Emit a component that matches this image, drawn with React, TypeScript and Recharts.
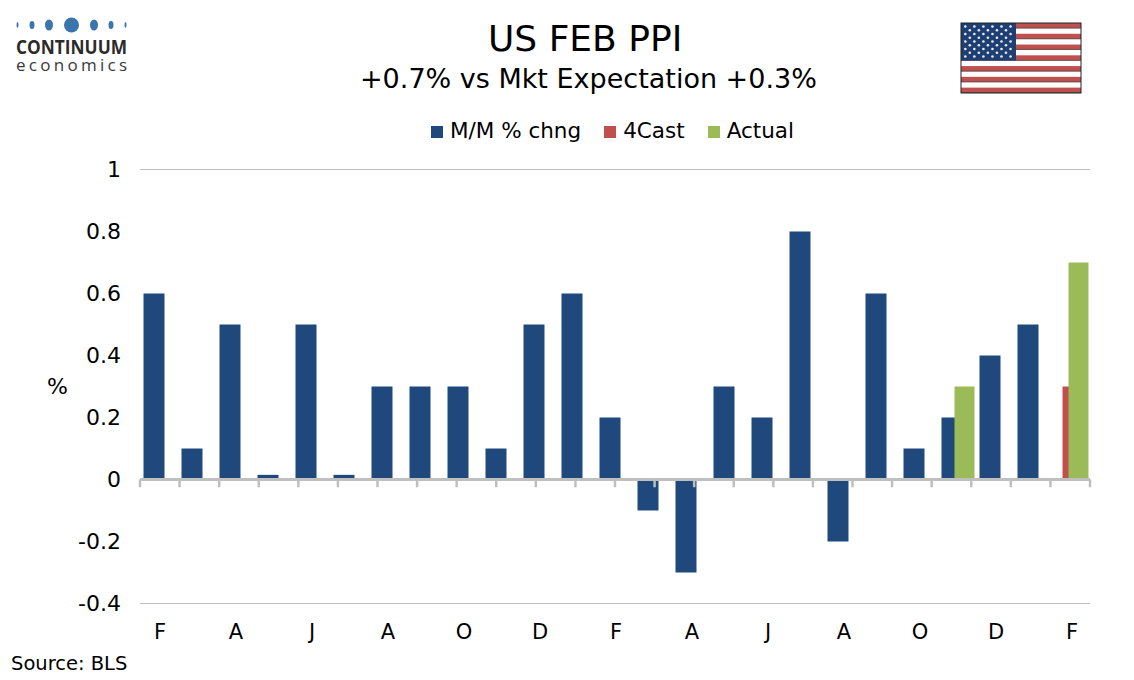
import React from 'react';
import { BarChart, Bar, XAxis, YAxis, CartesianGrid, ReferenceLine, Legend } from 'recharts';

const months = ['F','M','A','M','J','J','A','S','O','N','D','J','F','M','A','M','J','J','A','S','O','N','D','J','F'];
const mm: (number|null)[] = [0.6,0.1,0.5,0.015,0.5,0.015,0.3,0.3,0.3,0.1,0.5,0.6,0.2,-0.1,-0.3,0.3,0.2,0.8,-0.2,0.6,0.1,0.2,0.4,0.5,null];
const cast: (number|null)[] = [null,null,null,null,null,null,null,null,null,null,null,null,null,null,null,null,null,null,null,null,null,null,null,null,0.3];
const actual: (number|null)[] = [null,null,null,null,null,null,null,null,null,null,null,null,null,null,null,null,null,null,null,null,null,0.3,null,null,0.7];
const yTicks = [-0.4,-0.2,0,0.2,0.4,0.6,0.8,1];
const tickEdges = Array.from({length: months.length + 1}, (_, i) => i);
const data = months.map((m, i) => ({ key: i, m, mm: mm[i], cast: cast[i], actual: actual[i] }));

const FONT = '"DejaVu Sans", Verdana, sans-serif';
const GREY = '#BFBFBF';

function Flag() {
  const stripes = Array.from({length: 13}, (_, i) => i);
  const stars: [number, number][] = [];
  for (let r = 0; r < 9; r++) {
    const n = r % 2 === 0 ? 6 : 5;
    for (let c = 0; c < n; c++) stars.push([4.3 + (r % 2 === 0 ? 0 : 4.5) + c * 9.05, 3.5 + r * 3.75]);
  }
  return (
    <svg width={122} height={72} style={{position:'absolute',left:960,top:22}}>
      <g transform="translate(1,1)">
        <rect x={0} y={0} width={120} height={70} fill="#fff"/>
        {stripes.filter(i => i % 2 === 0).map(i => (
          <g key={i}>
            <rect x={0} y={i*70/13} width={120} height={70/13} fill="#C0504D"/>
            <rect x={0} y={(i+1)*70/13-1} width={120} height={1} fill="#6b5050"/>
          </g>
        ))}
        <rect x={0} y={0} width={55} height={37.5} fill="#1F3F73"/>
        {stars.map(([x,y],i)=><circle key={i} cx={x} cy={y} r={1.3} fill="#e8eef6"/>)}
        <rect x={0} y={0} width={120} height={70} fill="none" stroke="#222" strokeWidth={1}/>
      </g>
    </svg>
  );
}

function Logo() {
  const dots = [[17.5,1,3],[32,2.5,4],[49,4,5.5],[71.5,7.5,7.5],[94,4,5.5],[111,2.5,4],[125.5,1,3]];
  return (
    <svg width={150} height={80} style={{position:'absolute',left:0,top:0}}>
      {dots.map(([x,rx,ry],i)=><ellipse key={i} cx={x} cy={25} rx={rx} ry={ry} fill="#3A76AD"/>)}
      <text x={16} y={54} fontFamily='"Open Sans", sans-serif' fontWeight={700} fontSize={20} fill="#2b2b2b" textLength={111} lengthAdjust="spacingAndGlyphs">CONTINUUM</text>
      <text x={16} y={71} fontFamily='"Open Sans", sans-serif' fontSize={17} fill="#3a3a3a" textLength={111}>economics</text>
    </svg>
  );
}

const abs = (o: React.CSSProperties): React.CSSProperties => ({position:'absolute', fontFamily: FONT, color:'#000', whiteSpace:'nowrap', lineHeight:1, ...o});

export default function App() {
  return (
    <div style={{position:'absolute',left:0,top:0,width:1134,height:680,background:'#fff',overflow:'hidden'}}>
      <BarChart width={1134} height={680} data={data} margin={{top:169.5,right:44,bottom:0,left:0}} barGap={-14} style={{fontFamily:FONT}}>
        <CartesianGrid vertical={false} stroke={GREY} strokeWidth={1} />
        <XAxis xAxisId="cat" dataKey="key" height={76.5} interval={0} axisLine={false} tickLine={false} padding={{left:0.5,right:-0.5}}
          ticks={data.filter((_, i) => i % 2 === 0).map(d => d.key)}
          tickFormatter={(k: number) => months[k]} tick={{fontSize:21, fill:'#000', dy:13, dx:0.5}} />
        <XAxis xAxisId="edge" type="number" domain={[0, months.length]} hide />
        <YAxis yAxisId="y" width={140} domain={[-0.4,1]} ticks={yTicks} interval={0} axisLine={false} tickLine={false}
          tick={{fontSize:22, fill:'#000', dx:-11}} tickFormatter={(v:number)=>String(v)} />
        <Legend verticalAlign="middle" align="center" iconType="square" iconSize={12} itemSorter={null}
          wrapperStyle={{position:'absolute',top:118,left:57,width:1134,fontSize:21.5,fontFamily:FONT}}
          formatter={(v:string)=><span style={{color:'#000',fontSize:21.5,marginLeft:3,marginRight:13}}>{v}</span>} />
        <Bar xAxisId="cat" yAxisId="y" dataKey="mm" name="M/M % chng" fill="#1F497D" barSize={21} isAnimationActive={false} />
        <Bar xAxisId="cat" yAxisId="y" dataKey="cast" name="4Cast" fill="#C0504D" barSize={20} isAnimationActive={false} />
        <Bar xAxisId="cat" yAxisId="y" dataKey="actual" name="Actual" fill="#9BBB59" barSize={20} isAnimationActive={false} />
        <ReferenceLine xAxisId="cat" yAxisId="y" y={0} stroke={GREY} strokeWidth={3} />
        {tickEdges.map(e => (
          <ReferenceLine key={e} xAxisId="edge" yAxisId="y" stroke={GREY} strokeWidth={2.5}
            segment={[{x:e,y:0},{x:e,y:-0.025}]} />
        ))}
      </BarChart>
      <div style={abs({left:488,top:21,fontSize:36})}>US FEB PPI</div>
      <div style={abs({left:360,top:65,fontSize:27})}>+0.7% vs Mkt Expectation +0.3%</div>
      <div style={abs({left:47,top:376,fontSize:22})}>%</div>
      <div style={abs({left:11,top:654,fontSize:19.5})}>Source: BLS</div>
      <Logo/>
      <Flag/>
    </div>
  );
}
